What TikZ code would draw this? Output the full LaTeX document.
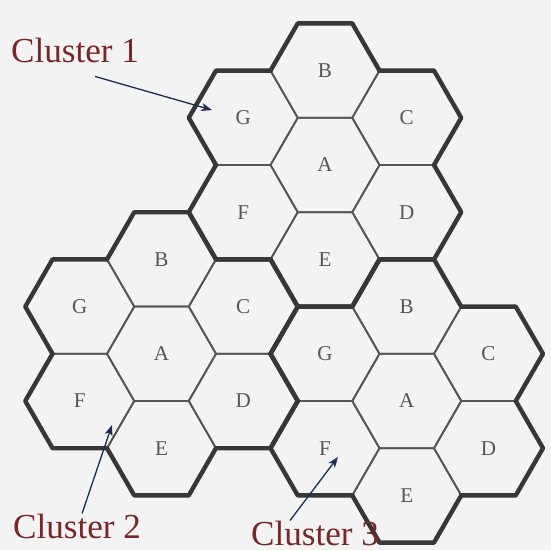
\documentclass[tikz,border=0pt]{standalone}
\usepackage{fontspec}
\setmainfont{Liberation Serif}
\usepackage{tikz}
\usetikzlibrary{arrows.meta,calc}
\definecolor{labelred}{RGB}{120,38,40}
\definecolor{arrowblue}{RGB}{30,45,80}
\definecolor{hexdark}{RGB}{55,55,55}
\definecolor{hexthin}{RGB}{85,85,85}
\definecolor{paper}{RGB}{243,243,243}

\begin{document}
\begin{tikzpicture}[x=0.02cm, y=-0.02cm,
    cellline/.style={hexthin, line width=1pt, line join=round},
    clusterline/.style={hexdark, line width=2.5pt, line join=round, line cap=round},
    cellname/.style={text=hexthin, font=\fontsize{12}{14}\selectfont, inner sep=1pt},
    clustername/.style={text=labelred, font=\fontsize{20}{23}\selectfont, inner sep=1pt},
    pointer/.style={arrowblue, line width=0.75pt, -{Stealth[length=6pt,width=4.5pt,inset=1.5pt]}}]
  \useasboundingbox[fill=paper] (0,0) rectangle (551,550);
  \def\R{54.5}
  \def\dx{81.75}
  \def\dy{94.4}

  % --- Cells of the three clusters ---
  \foreach \cl/\cx/\cy in {1/325/165, 2/161.5/353.8, 3/406.75/401} {
    \foreach \cell/\ox/\oy in {A/0/0, B/0/-1, C/1/-0.5, D/1/0.5, E/0/1, F/-1/0.5, G/-1/-0.5} {
      \coordinate (c\cl\cell) at ({\cx+\ox*\dx},{\cy+\oy*\dy});
      \draw[cellline] (c\cl\cell) ++(0:\R) -- ++(120:\R) -- ++(180:\R)
        -- ++(240:\R) -- ++(300:\R) -- ++(0:\R) -- cycle;
      \node[cellname] (n\cl\cell) at (c\cl\cell) {\cell};
    }
  }

  % --- Cluster borders ---
  \foreach \cl in {1,2,3}
    \foreach \cell/\a in {B/270, C/330, D/30, E/90, F/150, G/210}
      \draw[clusterline] ($(c\cl\cell)+(\a-90:\R)$) -- ($(c\cl\cell)+(\a-30:\R)$)
        -- ($(c\cl\cell)+(\a+30:\R)$) -- ($(c\cl\cell)+(\a+90:\R)$);

  % --- Labels ---
  \node[clustername, anchor=base west] (lab1) at (9,63) {Cluster 1};
  \node[clustername, anchor=base west] (lab2) at (11,538) {Cluster 2};
  \node[clustername, anchor=base west] (lab3) at (249,545) {Cluster 3};
  \coordinate (tip1) at (212,110);
  \coordinate (tip2) at (112,425);
  \coordinate (tip3) at (338,457);
  \draw[pointer] ($(lab1.south)+(20,11)$) -- (tip1);
  \draw[pointer] ($(lab2.north)+(5,2)$) -- (tip2);
  \draw[pointer] ($(lab3.north)+(-25,2)$) -- (tip3);
\end{tikzpicture}
\end{document}
